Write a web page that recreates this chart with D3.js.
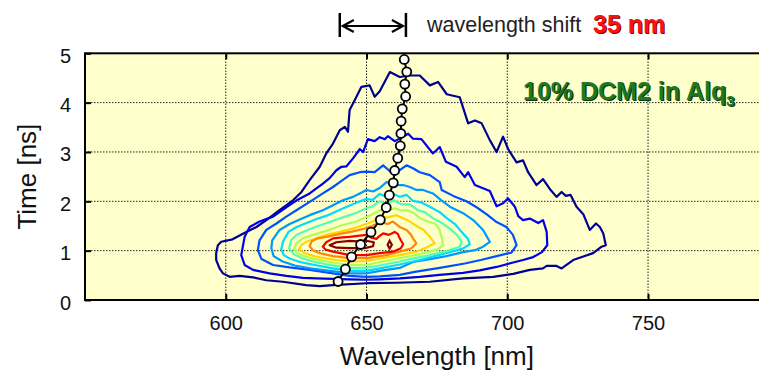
<!DOCTYPE html>
<html>
<head>
<meta charset="utf-8">
<title>Time-resolved emission contour</title>
<script src="https://d3js.org/d3.v7.min.js"></script>
<style>
  body { margin: 0; background: #fff; }
  svg { display: block; font-family: "Liberation Sans", Arial, sans-serif; }
</style>
</head>
<body>
<div id="chart"></div>
<script>
// axis ticks
const xTicks = [600, 650, 700, 750];
const yTicks = [0, 1, 2, 3, 4, 5];

// contour colours, outermost level first
const levelColors = ["#000090", "#0000e8", "#0050ff", "#0098ff", "#00dcff", "#50ffb0",
                     "#b0ff50", "#ffd800", "#ff8800", "#f80000", "#880000"];

// contour outlines: [wavelength nm, time ns]
const level1 = [[596.6,0.95],[597.2,1.11],[598.4,1.18],[602.4,1.23],[607.3,1.38],[610.9,1.48],[614.4,1.62],[619.1,1.82],[623.9,2.02],[626.9,2.19],[629.8,2.43],[633.4,2.70],[635.7,2.97],[638.1,3.17],[640.5,3.44],[642.3,3.51],[643.4,3.41],[644.0,3.85],[645.8,4.05],[648.2,4.32],[651.1,4.35],[652.9,4.12],[654.7,4.23],[658.3,4.62],[661.8,4.52],[665.4,4.55],[668.9,4.55],[672.5,4.35],[675.4,4.42],[678.5,4.17],[683.1,4.11],[686.1,3.58],[688.5,3.64],[690.9,3.58],[693.8,3.24],[696.2,3.00],[698.5,3.31],[700.3,3.06],[703.3,2.79],[705.6,2.83],[707.4,2.59],[710.4,2.33],[712.7,2.45],[715.1,2.25],[717.5,2.09],[719.3,2.19],[720.8,2.11],[722.5,2.13],[724.6,1.89],[727.0,1.74],[729.3,1.42],[731.5,1.55],[732.9,1.48],[734.1,1.35],[735.0,1.11],[733.5,1.08],[730.5,0.95],[727.0,0.88],[723.4,0.81],[719.3,0.64],[717.5,0.69],[714.0,0.69],[712.7,0.64],[708.0,0.61],[702.1,0.53],[695.0,0.47],[684.3,0.44],[672.5,0.37],[660.6,0.35],[650.0,0.34],[638.1,0.30],[633.4,0.28],[628.6,0.30],[620.3,0.37],[614.4,0.40],[609.7,0.46],[604.9,0.49],[601.4,0.47],[599.0,0.54],[597.8,0.64],[596.6,0.81]];
const level2 = [[605.5,0.91],[606.7,1.28],[608.5,1.48],[612.0,1.59],[616.8,1.69],[621.5,1.88],[625.2,2.02],[629.8,2.16],[634.5,2.36],[636.9,2.47],[639.3,2.63],[641.1,2.70],[642.9,2.71],[645.2,2.87],[647.6,3.06],[648.8,3.00],[650.5,3.26],[652.9,3.22],[654.7,3.30],[656.5,3.26],[657.6,3.32],[660.0,3.22],[662.4,3.29],[664.8,3.37],[666.5,3.27],[669.5,3.26],[673.6,2.97],[676.0,3.10],[678.2,2.80],[682.0,2.70],[684.9,2.49],[686.1,2.59],[688.5,2.33],[693.8,2.21],[696.2,1.90],[698.5,1.96],[700.3,2.06],[702.7,1.89],[703.9,1.70],[705.6,1.62],[708.0,1.65],[711.0,1.56],[712.7,1.62],[714.0,1.38],[714.2,1.11],[712.3,0.97],[709.2,0.87],[705.6,0.81],[702.1,0.76],[696.2,0.67],[690.2,0.60],[684.3,0.55],[676.0,0.51],[668.9,0.47],[661.8,0.44],[654.7,0.42],[650.0,0.41],[644.0,0.42],[638.1,0.43],[632.2,0.44],[627.4,0.45],[621.5,0.49],[615.6,0.54],[609.7,0.61],[606.7,0.71]];
const level3 = [[611.4,1.01],[612.0,1.21],[614.4,1.42],[618.0,1.55],[621.5,1.69],[625.1,1.82],[629.8,1.99],[634.5,2.16],[638.1,2.29],[640.5,2.39],[644.0,2.53],[647.6,2.59],[650.0,2.60],[652.9,2.59],[655.9,2.73],[658.3,2.61],[661.8,2.63],[664.2,2.73],[666.5,2.67],[668.9,2.59],[672.5,2.53],[676.0,2.39],[676.7,2.23],[680.8,2.11],[685.5,2.00],[689.1,1.88],[692.6,1.74],[696.2,1.58],[699.7,1.48],[702.0,1.32],[703.3,1.11],[701.5,0.96],[696.2,0.89],[690.6,0.81],[684.9,0.74],[676.0,0.65],[667.1,0.57],[661.8,0.51],[654.7,0.48],[650.0,0.47],[644.0,0.49],[636.9,0.55],[629.8,0.61],[622.7,0.66],[616.8,0.71],[612.7,0.83]];
const level4 = [[616.2,1.05],[616.5,1.21],[619.1,1.42],[622.7,1.54],[626.3,1.63],[629.8,1.72],[634.5,1.82],[638.1,1.92],[641.6,2.02],[645.2,2.09],[647.6,2.16],[650.0,2.23],[652.3,2.20],[654.7,2.27],[657.1,2.39],[660.0,2.33],[663.0,2.33],[665.4,2.29],[667.7,2.23],[670.1,2.23],[673.6,2.16],[676.6,2.02],[679.6,1.89],[684.3,1.76],[687.9,1.62],[691.4,1.42],[693.8,1.18],[691.4,1.08],[688.5,1.01],[684.3,0.97],[678.4,0.89],[672.5,0.83],[666.5,0.77],[661.8,0.65],[654.7,0.59],[650.0,0.54],[644.0,0.54],[636.9,0.59],[629.8,0.64],[624.5,0.70],[620.2,0.78],[617.0,0.89]];
const level5 = [[619.7,1.03],[620.4,1.19],[622.3,1.38],[625.2,1.48],[628.7,1.56],[632.3,1.64],[635.9,1.71],[639.4,1.80],[643.0,1.89],[646.4,1.97],[650.0,2.05],[652.2,2.03],[654.7,2.15],[656.8,2.10],[659.0,2.17],[661.8,2.09],[664.3,2.13],[666.4,2.01],[669.3,1.98],[672.5,1.89],[676.0,1.78],[678.5,1.66],[681.4,1.54],[683.8,1.38],[686.0,1.24],[686.7,1.13],[684.2,1.04],[679.6,0.97],[674.2,0.89],[668.9,0.81],[661.8,0.72],[654.7,0.64],[650.0,0.59],[644.0,0.59],[638.0,0.64],[631.6,0.71],[626.3,0.77],[622.7,0.84],[620.6,0.91]];
const level6 = [[622.5,1.05],[623.2,1.21],[625.2,1.32],[628.7,1.41],[632.3,1.49],[635.9,1.56],[639.4,1.63],[643.0,1.70],[646.5,1.77],[650.0,1.86],[652.2,1.90],[654.7,2.00],[657.2,1.95],[659.7,2.02],[662.2,1.94],[665.4,1.94],[668.2,1.82],[670.7,1.78],[673.5,1.66],[677.1,1.55],[679.9,1.43],[682.1,1.32],[683.8,1.19],[683.1,1.08],[678.5,0.99],[672.5,0.91],[665.4,0.83],[661.8,0.78],[654.7,0.70],[650.0,0.65],[644.0,0.65],[638.0,0.70],[631.6,0.77],[627.3,0.84],[624.1,0.93]];
const level7 = [[624.2,1.03],[625.1,1.15],[627.4,1.25],[631.0,1.32],[634.5,1.38],[638.1,1.45],[641.6,1.52],[646.4,1.59],[650.0,1.68],[652.2,1.74],[654.7,1.82],[657.5,1.80],[660.0,1.86],[662.5,1.81],[664.6,1.82],[666.8,1.76],[669.3,1.65],[671.8,1.59],[674.6,1.54],[676.0,1.42],[676.7,1.26],[677.3,1.11],[675.0,1.02],[668.9,0.93],[661.8,0.85],[654.7,0.77],[650.0,0.71],[644.0,0.71],[638.0,0.76],[631.6,0.83],[627.3,0.90],[625.2,0.96]];
const level8 = [[626.0,1.02],[626.9,1.11],[628.6,1.18],[632.2,1.25],[635.7,1.32],[640.5,1.38],[645.2,1.45],[650.0,1.54],[652.6,1.60],[654.7,1.70],[657.2,1.67],[660.6,1.72],[663.6,1.64],[665.4,1.59],[667.8,1.50],[670.3,1.42],[672.5,1.28],[674.2,1.15],[671.4,1.07],[667.8,0.98],[661.8,0.91],[654.7,0.84],[650.0,0.79],[644.0,0.78],[638.0,0.82],[631.9,0.88],[628.0,0.95]];
const level9 = [[629.8,1.09],[630.5,1.19],[632.7,1.25],[635.7,1.28],[640.5,1.34],[645.2,1.39],[650.0,1.46],[652.3,1.51],[654.7,1.58],[657.5,1.54],[659.4,1.59],[661.8,1.48],[664.2,1.42],[665.7,1.33],[666.5,1.25],[667.7,1.15],[666.0,1.05],[661.8,0.98],[657.1,0.91],[650.0,0.85],[644.0,0.85],[638.0,0.89],[633.4,0.95],[630.9,1.01]];
const level10 = [[634.5,1.08],[635.7,1.17],[638.1,1.25],[641.5,1.27],[644.0,1.28],[646.9,1.30],[650.0,1.32],[651.5,1.27],[653.5,1.24],[654.7,1.30],[655.9,1.35],[657.9,1.32],[660.0,1.38],[661.1,1.34],[661.8,1.25],[663.0,1.13],[662.2,1.05],[659.4,0.98],[654.7,0.95],[650.0,0.91],[644.0,0.91],[638.1,0.98],[635.5,1.02]];
const level11 = [[636.9,1.11],[639.3,1.17],[644.0,1.20],[646.9,1.19],[650.0,1.20],[652.6,1.17],[652.3,1.09],[649.4,1.05],[644.0,1.05],[639.3,1.06]];
const level11Spot = [[658.2,1.20],[659.0,1.12],[658.2,1.04],[657.5,1.12]];

const contourLevels = [level1, level2, level3, level4, level5, level6, level7, level8, level9, level10, level11];

// emission peak position at each delay
const peakTime = [0.375, 0.625, 0.875, 1.125, 1.375, 1.625, 1.875, 2.125, 2.375, 2.625,
                  2.875, 3.125, 3.375, 3.625, 3.875, 4.125, 4.375, 4.625, 4.875];
const peakWavelength = [639.9, 642.5, 644.7, 647.9, 651.6, 654.9, 657.0, 658.1, 659.5, 660.0,
                        661.1, 662.0, 662.2, 662.3, 662.7, 663.9, 663.6, 664.3, 663.4];

// wavelength shift marker
const shiftFrom = 640.5;
const shiftTo = 664;

const width = 759, height = 372;

const svg = d3.select('#chart').append('svg')
    .attr('width', width)
    .attr('height', height);

const x = d3.scaleLinear().domain([550, 800]).range([85, 788.8]);
const y = d3.scaleLinear().domain([0, 5]).range([300, 53.3]);

// plot background
svg.append('rect')
    .attr('x', x(550)).attr('y', y(5))
    .attr('width', x(800) - x(550)).attr('height', y(0) - y(5))
    .attr('fill', '#ffffcc');

// dotted grid
const grid = svg.append('g').attr('stroke', '#222').attr('stroke-width', 1).attr('stroke-dasharray', '1.5,1.5');
grid.selectAll('.gx').data(xTicks).enter().append('line')
    .attr('x1', d => x(d)).attr('x2', d => x(d))
    .attr('y1', y(0)).attr('y2', y(5));
grid.selectAll('.gy').data(yTicks.filter(d => d > 0 && d < 5)).enter().append('line')
    .attr('x1', x(550)).attr('x2', x(800))
    .attr('y1', d => y(d)).attr('y2', d => y(d));

// contours
const outline = d3.line().x(d => x(d[0])).y(d => y(d[1])).curve(d3.curveLinearClosed);
svg.append('g').selectAll('path')
    .data(contourLevels)
    .enter().append('path')
    .attr('d', outline)
    .attr('fill', 'none')
    .attr('stroke', (d, i) => levelColors[i])
    .attr('stroke-width', 2.2)
    .attr('stroke-linejoin', 'round');
svg.append('path')
    .attr('d', outline(level11Spot))
    .attr('fill', 'none')
    .attr('stroke', levelColors[10])
    .attr('stroke-width', 2.2);

// peak trace
const peaks = peakTime.map((t, i) => [peakWavelength[i], t]);
svg.append('path')
    .attr('d', d3.line().x(d => x(d[0])).y(d => y(d[1]))(peaks))
    .attr('fill', 'none')
    .attr('stroke', '#000')
    .attr('stroke-width', 2);
svg.append('g').selectAll('circle')
    .data(peaks)
    .enter().append('circle')
    .attr('cx', d => x(d[0]))
    .attr('cy', d => y(d[1]))
    .attr('r', 4.5)
    .attr('fill', '#fff')
    .attr('stroke', '#000')
    .attr('stroke-width', 1.8);

// frame
svg.append('rect')
    .attr('x', x(550)).attr('y', y(5))
    .attr('width', x(800) - x(550)).attr('height', y(0) - y(5))
    .attr('fill', 'none')
    .attr('stroke', '#000')
    .attr('stroke-width', 2);

// axes (ticks point inward)
const xAxis = svg.append('g')
    .attr('transform', `translate(0,${y(0)})`)
    .call(d3.axisBottom(x).tickValues(xTicks).tickSizeInner(-6).tickSizeOuter(0).tickPadding(16));
const topAxis = svg.append('g')
    .attr('transform', `translate(0,${y(5)})`)
    .call(d3.axisTop(x).tickValues(xTicks).tickSizeInner(-6).tickSizeOuter(0).tickFormat(''));
const yAxis = svg.append('g')
    .attr('transform', `translate(${x(550)},0)`)
    .call(d3.axisLeft(y).tickValues(yTicks).tickFormat(d3.format('d'))
        .tickSizeInner(-6).tickSizeOuter(0).tickPadding(14));

[xAxis, topAxis, yAxis].forEach(a => {
    a.select('.domain').remove();
    a.selectAll('line').attr('stroke', '#000').attr('stroke-width', 2);
    a.attr('font-family', null).attr('font-size', 20);
    a.selectAll('text').attr('fill', '#111');
});
yAxis.selectAll('text').attr('dy', '0.45em');

// axis titles
svg.append('text')
    .attr('x', (x(550) + x(800)) / 2)
    .attr('y', 365)
    .attr('text-anchor', 'middle')
    .attr('font-size', 26)
    .attr('fill', '#111')
    .text('Wavelength [nm]');
svg.append('text')
    .attr('transform', `translate(36,${(y(0) + y(5)) / 2}) rotate(-90)`)
    .attr('text-anchor', 'middle')
    .attr('font-size', 26)
    .attr('fill', '#111')
    .text('Time [ns]');

// sample label with shadow
function sampleLabel(dx, dy, color) {
    const t = svg.append('text')
        .attr('x', 523 + dx).attr('y', 100 + dy)
        .attr('font-size', 25)
        .attr('font-weight', 'bold')
        .attr('fill', color);
    t.append('tspan').text('10% DCM2 in Alq');
    t.append('tspan').attr('font-size', 15).attr('dy', 6).text('3');
}
sampleLabel(1.2, 1.2, '#0b3a0b');
sampleLabel(0, 0, '#1f7a1f');

// wavelength shift annotation
const ann = svg.append('g').attr('stroke', '#000').attr('fill', 'none');
const ax1 = x(shiftFrom), ax2 = x(shiftTo), ay = 26;
ann.append('line').attr('x1', ax1).attr('x2', ax1).attr('y1', 13).attr('y2', 37).attr('stroke-width', 2.5);
ann.append('line').attr('x1', ax2).attr('x2', ax2).attr('y1', 13).attr('y2', 37).attr('stroke-width', 2.5);
ann.append('line').attr('x1', ax1 + 3).attr('x2', ax2 - 3).attr('y1', ay).attr('y2', ay).attr('stroke-width', 2);
ann.append('path')
    .attr('d', `M${ax1 + 14},${ay - 6}L${ax1 + 3},${ay}L${ax1 + 14},${ay + 6}`)
    .attr('stroke-width', 2.2);
ann.append('path')
    .attr('d', `M${ax2 - 14},${ay - 6}L${ax2 - 3},${ay}L${ax2 - 14},${ay + 6}`)
    .attr('stroke-width', 2.2);

svg.append('text')
    .attr('x', 427).attr('y', 32)
    .attr('font-size', 21.5)
    .attr('fill', '#222')
    .text('wavelength shift');
svg.append('text')
    .attr('x', 594).attr('y', 34)
    .attr('font-size', 25)
    .attr('font-weight', 'bold')
    .attr('fill', '#700000')
    .text('35 nm');
svg.append('text')
    .attr('x', 593).attr('y', 33)
    .attr('font-size', 25)
    .attr('font-weight', 'bold')
    .attr('fill', '#ff1010')
    .text('35 nm');
</script>
</body>
</html>
